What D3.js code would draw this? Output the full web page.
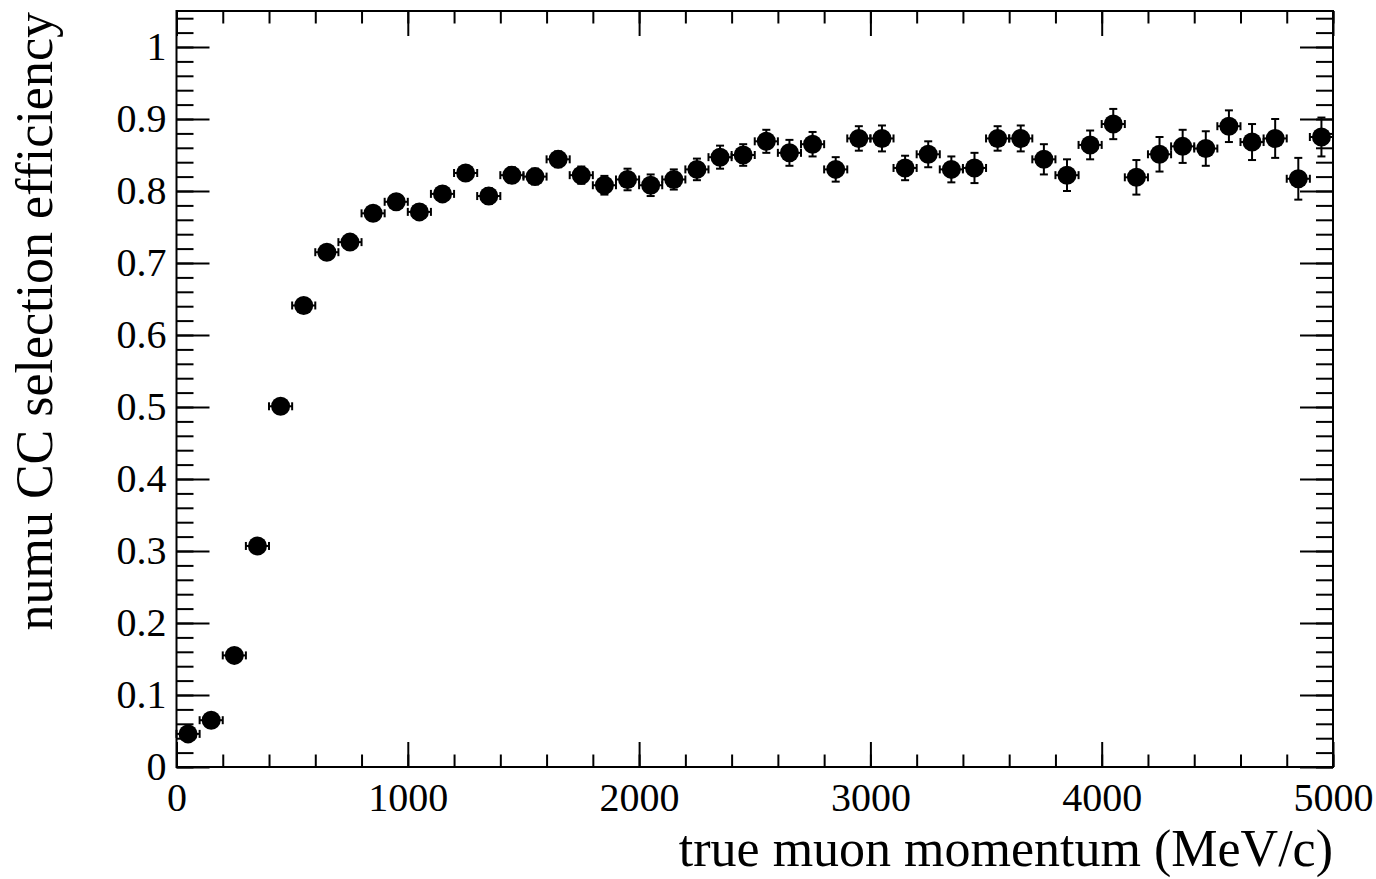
<!DOCTYPE html>
<html>
<head>
<meta charset="utf-8">
<script src="https://cdn.jsdelivr.net/npm/d3@7"></script>
<style>
  body { margin: 0; background: #fff; }
  svg text { font-family: 'Liberation Serif', 'Times New Roman', serif; fill: #000; }
  .axis path { display: none; }
  .axis line { stroke: #000; stroke-width: 2; }
  .axis text { font-size: 40px; }
</style>
</head>
<body>
<div id="container"></div>
<script>
// bin centres (MeV/c), 100 MeV wide bins
let momentum = [50, 150, 250, 350, 450, 550, 650, 750, 850, 950,
  1050, 1150, 1250, 1350, 1450, 1550, 1650, 1750, 1850, 1950,
  2050, 2150, 2250, 2350, 2450, 2550, 2650, 2750, 2850, 2950,
  3050, 3150, 3250, 3350, 3450, 3550, 3650, 3750, 3850, 3950,
  4050, 4150, 4250, 4350, 4450, 4550, 4650, 4750, 4850, 4950]
let binHalfWidth = 50

let efficiency = [0.046, 0.065, 0.155, 0.307, 0.501, 0.641, 0.715, 0.729, 0.769, 0.785,
  0.771, 0.796, 0.825, 0.793, 0.822, 0.820, 0.844, 0.822, 0.808, 0.816,
  0.808, 0.816, 0.830, 0.847, 0.850, 0.869, 0.853, 0.865, 0.830, 0.873,
  0.873, 0.832, 0.851, 0.830, 0.832, 0.873, 0.873, 0.844, 0.822, 0.864,
  0.893, 0.819, 0.851, 0.862, 0.859, 0.890, 0.868, 0.873, 0.817, 0.875]

let efficiencyErr = [0.004, 0.005, 0.007, 0.008, 0.009, 0.009, 0.009, 0.009, 0.009, 0.009,
  0.010, 0.010, 0.010, 0.011, 0.011, 0.011, 0.011, 0.012, 0.013, 0.015,
  0.015, 0.014, 0.015, 0.016, 0.015, 0.016, 0.018, 0.017, 0.017, 0.017,
  0.018, 0.017, 0.018, 0.018, 0.021, 0.017, 0.018, 0.021, 0.022, 0.020,
  0.021, 0.024, 0.024, 0.023, 0.024, 0.022, 0.025, 0.027, 0.029, 0.027]

let xMajorTicks = [0, 1000, 2000, 3000, 4000, 5000]
let xMinorTicks = d3.range(0, 5001, 200)
let yMajorTicks = [0, 0.1, 0.2, 0.3, 0.4, 0.5, 0.6, 0.7, 0.8, 0.9, 1]
let yMinorTicks = d3.range(0, 105, 2).map(d => d / 100)

let width = 1376,
  height = 879,
  margin = { top: 11, right: 43, bottom: 112, left: 176.5 },
  bodyWidth = width - margin.left - margin.right,
  bodyHeight = height - margin.top - margin.bottom

let xScale = d3.scaleLinear().domain([0, 5000]).range([0, bodyWidth]),
  yScale = d3.scaleLinear().domain([0, 1.05]).range([bodyHeight, 0])

let svg = d3.select('#container')
  .append('svg')
  .attr('width', width)
  .attr('height', height)

svg.append('rect')
  .attr('width', width)
  .attr('height', height)
  .attr('fill', '#fff')

let g = svg.append('g')
  .attr('transform', 'translate(' + margin.left + ', ' + margin.top + ')')

// ticks drawn inward on all four sides, ROOT style
g.append('g').attr('class', 'axis')
  .attr('transform', 'translate(0, ' + bodyHeight + ')')
  .call(d3.axisBottom(xScale).tickValues(xMinorTicks).tickSize(-12.5).tickFormat(''))
g.append('g').attr('class', 'axis')
  .attr('transform', 'translate(0, ' + bodyHeight + ')')
  .call(d3.axisBottom(xScale).tickValues(xMajorTicks).tickSize(-25).tickPadding(16).tickFormat(d3.format('d')))
g.append('g').attr('class', 'axis')
  .call(d3.axisTop(xScale).tickValues(xMinorTicks).tickSize(-12.5).tickFormat(''))
g.append('g').attr('class', 'axis')
  .call(d3.axisTop(xScale).tickValues(xMajorTicks).tickSize(-25).tickFormat(''))

g.append('g').attr('class', 'axis')
  .call(d3.axisLeft(yScale).tickValues(yMinorTicks).tickSize(-17).tickFormat(''))
g.append('g').attr('class', 'axis')
  .call(d3.axisLeft(yScale).tickValues(yMajorTicks).tickSize(-33).tickPadding(10).tickFormat(d => d3.format('~g')(d)))
g.append('g').attr('class', 'axis')
  .attr('transform', 'translate(' + bodyWidth + ', 0)')
  .call(d3.axisRight(yScale).tickValues(yMinorTicks).tickSize(-17).tickFormat(''))
g.append('g').attr('class', 'axis')
  .attr('transform', 'translate(' + bodyWidth + ', 0)')
  .call(d3.axisRight(yScale).tickValues(yMajorTicks).tickSize(-33).tickFormat(''))

g.append('rect')
  .attr('width', bodyWidth)
  .attr('height', bodyHeight)
  .attr('fill', 'none')
  .attr('stroke', '#000')
  .attr('stroke-width', 2)

let points = momentum.map((m, i) => ({ x: m, y: efficiency[i], e: efficiencyErr[i] }))
let cap = 4

let bars = g.append('g')
  .attr('stroke', '#000')
  .attr('stroke-width', 2)
  .selectAll('g')
  .data(points)
  .join('g')

bars.append('line')
  .attr('x1', d => xScale(d.x - binHalfWidth))
  .attr('x2', d => xScale(d.x + binHalfWidth))
  .attr('y1', d => yScale(d.y))
  .attr('y2', d => yScale(d.y))
bars.append('line')
  .attr('x1', d => xScale(d.x - binHalfWidth))
  .attr('x2', d => xScale(d.x - binHalfWidth))
  .attr('y1', d => yScale(d.y) - cap)
  .attr('y2', d => yScale(d.y) + cap)
bars.append('line')
  .attr('x1', d => xScale(d.x + binHalfWidth))
  .attr('x2', d => xScale(d.x + binHalfWidth))
  .attr('y1', d => yScale(d.y) - cap)
  .attr('y2', d => yScale(d.y) + cap)
bars.append('line')
  .attr('x1', d => xScale(d.x))
  .attr('x2', d => xScale(d.x))
  .attr('y1', d => yScale(d.y - d.e))
  .attr('y2', d => yScale(d.y + d.e))
bars.append('line')
  .attr('x1', d => xScale(d.x) - cap)
  .attr('x2', d => xScale(d.x) + cap)
  .attr('y1', d => yScale(d.y + d.e))
  .attr('y2', d => yScale(d.y + d.e))
bars.append('line')
  .attr('x1', d => xScale(d.x) - cap)
  .attr('x2', d => xScale(d.x) + cap)
  .attr('y1', d => yScale(d.y - d.e))
  .attr('y2', d => yScale(d.y - d.e))

g.append('g')
  .selectAll('circle')
  .data(points)
  .join('circle')
  .attr('cx', d => xScale(d.x))
  .attr('cy', d => yScale(d.y))
  .attr('r', 9.5)
  .attr('fill', '#000')

svg.append('text')
  .text('true muon momentum (MeV/c)')
  .attr('x', margin.left + bodyWidth)
  .attr('y', 866)
  .attr('text-anchor', 'end')
  .attr('font-size', 52)

svg.append('text')
  .text('numu CC selection efficiency')
  .attr('transform', 'translate(52, 12) rotate(-90)')
  .attr('text-anchor', 'end')
  .attr('font-size', 52)
</script>
</body>
</html>
